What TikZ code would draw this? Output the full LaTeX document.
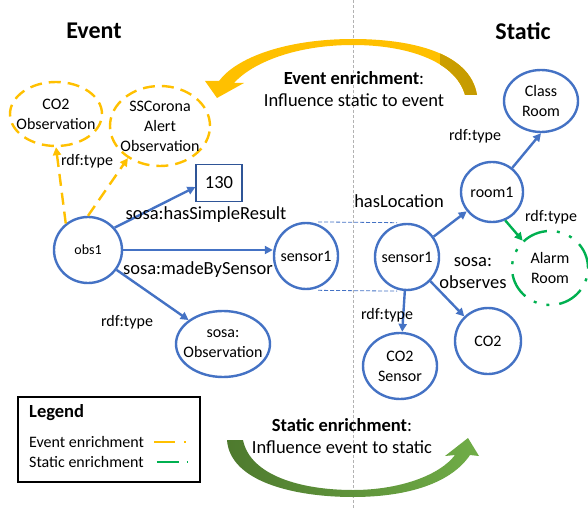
\documentclass[tikz,border=0pt]{standalone}
\usepackage{fontspec}
\setmainfont{Carlito}
\usetikzlibrary{shapes.geometric,arrows.meta}

\definecolor{entblue}{HTML}{4472C4}
\definecolor{boxblue}{HTML}{2F5597}
\definecolor{evyellow}{HTML}{FFC000}
\definecolor{evgold}{HTML}{C49A00}
\definecolor{stgreen}{HTML}{00B050}
\definecolor{stgreendark}{HTML}{4E7A2E}
\definecolor{stgreenlight}{HTML}{70AD47}

\newcommand\nodefont{\fontsize{16bp}{20bp}\selectfont}
\newcommand\smallnodefont{\fontsize{14bp}{17bp}\selectfont}
\newcommand\lblfont{\fontsize{18.5bp}{22bp}\selectfont}
\newcommand\titlefont{\fontsize{24bp}{28bp}\selectfont\bfseries}
\newcommand\legtitlefont{\fontsize{18.5bp}{22bp}\selectfont\bfseries}

\begin{document}
\begin{tikzpicture}
[x=1bp,y=-1bp,%
  every label/.style={font=\nodefont,align=center,inner sep=0pt},%
  ent/.style={shape=ellipse,draw=entblue,line width=2.4bp,inner sep=0pt},%
  evt/.style={ent,draw=evyellow,dash pattern=on 12bp off 7bp},%
  rel/.style={draw=entblue,line width=2.4bp,-{Triangle[length=8bp,width=8bp]}},%
  evrel/.style={rel,draw=evyellow,dash pattern=on 12bp off 7bp},%
  strel/.style={rel,draw=stgreen},%
  lbl/.style={inner sep=0pt,font=\lblfont,align=center},%
  typelbl/.style={inner sep=0pt,font=\nodefont}]
\useasboundingbox (0,0) rectangle (588,510);
%% divider
\coordinate (divtop) at (353,0);
\coordinate (divbot) at (353,510);
\draw[gray!60,line width=0.6bp,dash pattern=on 3bp off 2bp] (divtop) -- (divbot);
%% enrichment arrows
\def\eventband{(477,95) .. controls (470,52) and (410,39) .. (353,39)
  .. controls (285,39) and (236,58) .. (219,81) -- (205,81) -- (217,98)
  -- (244,83) -- (234,83) .. controls (252,63) and (295,45) .. (353,45)
  .. controls (405,45) and (455,60) .. (465,95) -- cycle}
\fill[evyellow] \eventband;
\begin{scope}
  \clip (440,50) rectangle (482,100);
  \shade[left color=evyellow,right color=evgold] \eventband;
\end{scope}
\shade[left color=stgreendark,right color=stgreenlight]
  (227,440) .. controls (230,482) and (295,497) .. (353,497)
  .. controls (410,497) and (452,482) .. (470,455) -- (479,456) -- (468,438)
  -- (445,456) -- (455,455) .. controls (440,475) and (400,490) .. (353,490)
  .. controls (300,490) and (250,475) .. (243,440) -- cycle;
%% titles
\node[font=\titlefont] (evtitle) at (94,31) {Event};
\node[font=\titlefont] (sttitle) at (523,31) {Static};
\node[lbl] (evenrich) at (354,89) {\textbf{Event enrichment}:\\Influence static to event};
\node[lbl] (stenrich) at (342,436) {\textbf{Static enrichment}:\\Influence event to static};
%% event side
\node[evt,minimum width=92bp,minimum height=64bp,
  label={center:CO2\\Observation}] (co2obs) at (56,114) {};
\node[evt,minimum width=100bp,minimum height=80bp,
  label={center:SSCorona\\Alert\\Observation}] (alertobs) at (160,126) {};
\node[draw=boxblue,line width=1.2bp,minimum width=46bp,minimum height=37bp,
  font=\lblfont] (result) at (219,183) {130};
\node[ent,minimum width=68bp,minimum height=66bp,
  label={[font=\smallnodefont]center:obs1}] (obs) at (88,250) {};
\node[ent,minimum width=64bp,minimum height=66bp,
  label={center:sensor1}] (sensorev) at (306,256) {};
\node[ent,minimum width=94bp,minimum height=66bp,
  label={center:sosa:\\Observation}] (obsclass) at (223,344) {};
%% static side
\node[ent,minimum width=64bp,minimum height=66bp,
  label={center:sensor1}] (sensorst) at (407,257) {};
\node[ent,minimum width=62bp,minimum height=60bp,
  label={center:room1}] (room) at (492,192) {};
\node[ent,minimum width=74bp,minimum height=62bp,
  label={center:Class\\Room}] (classroom) at (541,101) {};
\node[ent,draw=stgreen,minimum width=76bp,minimum height=74bp,
  dash pattern=on 26bp off 10bp on 3bp off 10bp on 3bp off 10bp,
  label={center:Alarm\\Room}] (alarm) at (550,268) {};
\node[ent,minimum width=66bp,minimum height=66bp,
  label={center:CO2}] (co2) at (488,341) {};
\node[ent,minimum width=74bp,minimum height=66bp,
  label={center:CO2\\Sensor}] (co2sensor) at (400,366) {};
%% edges
\draw[rel] (obs.40) -- ([yshift=-4bp]result.west);
\draw[rel] (obs.east) -- (obs.east -| sensorev.west);
\draw[rel] (obs) -- (obsclass);
\draw[evrel] (obs.130) -- (co2obs.south);
\draw[evrel] (obs.north) -- (alertobs.225);
\draw[entblue,line width=0.8bp,dash pattern=on 4bp off 2bp,shorten <=12bp,shorten >=10bp]
  (sensorev.north) -- (sensorst.north);
\draw[entblue,line width=0.8bp,dash pattern=on 4bp off 2bp,shorten <=12bp,shorten >=10bp]
  (sensorev.south) -- (sensorst.south);
\draw[rel] (sensorst) -- (room);
\draw[rel] (room.50) -- (classroom.south);
\draw[strel] (room.-65) -- (alarm.135);
\draw[rel] (sensorst) -- (co2);
\draw[rel] (sensorst) -- (co2sensor);
%% edge labels
\node[typelbl] (typeco2obs) at (87,161) {rdf:type};
\node[lbl] (simpleres) at (206,215) {sosa:hasSimpleResult};
\node[lbl] (madeby) at (198,270) {sosa:madeBySensor};
\node[typelbl] (typeobs) at (127,322) {rdf:type};
\node[lbl] (hasloc) at (399,201) {hasLocation};
\node[typelbl] (typeclass) at (475,136) {rdf:type};
\node[typelbl] (typealarm) at (551,217) {rdf:type};
\node[lbl] (observes) at (473,273) {sosa:\\observes};
\node[typelbl] (typesensor) at (387,315) {rdf:type};
%% legend
\node[draw,line width=1.2bp,minimum width=182bp,minimum height=85bp,inner sep=0pt] (legend) at (109,439.5) {};
\node[font=\legtitlefont,anchor=west,inner sep=0pt] (legtitle) at (29,413) {Legend};
\node[font=\nodefont,anchor=west,inner sep=0pt] (legev) at (29,442) {Event enrichment};
\node[font=\nodefont,anchor=west,inner sep=0pt] (legst) at (29,462) {Static enrichment};
\draw[evyellow,line width=2.2bp,dash pattern=on 21bp off 9bp on 2bp off 20bp]
  ([xshift=10bp]legev.east) -- ([xshift=43bp]legev.east);
\draw[stgreen,line width=2.2bp,dash pattern=on 22bp off 8bp on 0.6bp off 20bp]
  ([xshift=13bp]legst.east) -- ([xshift=44bp]legst.east);
\end{tikzpicture}
\end{document}
